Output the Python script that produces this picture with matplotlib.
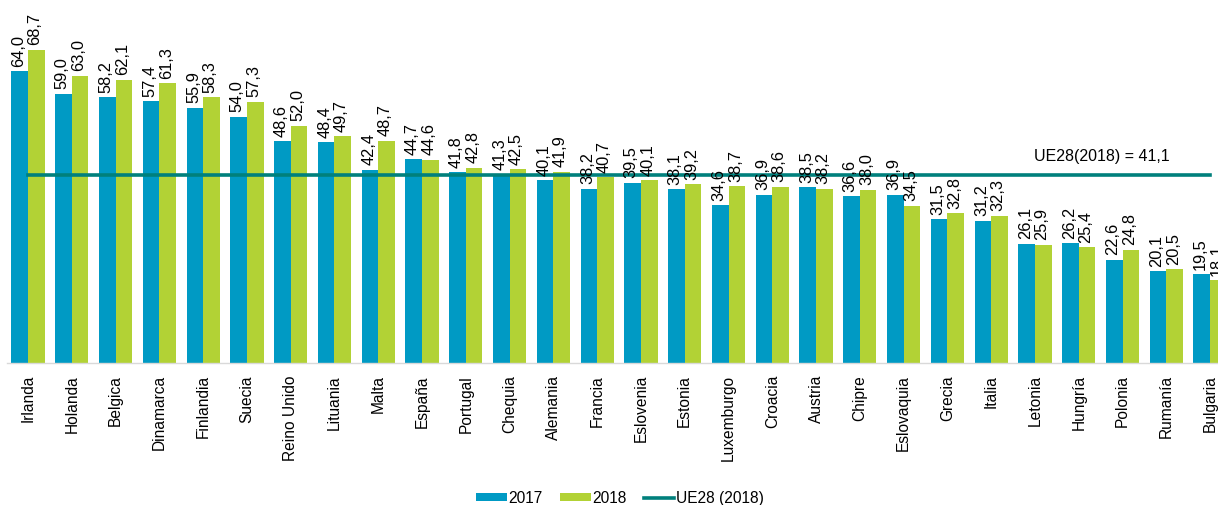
import numpy as np
import matplotlib
matplotlib.use("Agg")
import matplotlib.pyplot as plt

plt.rcParams['font.family'] = ['Liberation Sans', 'DejaVu Sans']

paises = ["Irlanda", "Holanda", "Belgica", "Dinamarca", "Finlandia", "Suecia",
          "Reino Unido", "Lituania", "Malta", "España", "Portugal", "Chequia",
          "Alemania", "Francia", "Eslovenia", "Estonia", "Luxemburgo", "Croacia",
          "Austria", "Chipre", "Eslovaquia", "Grecia", "Italia", "Letonia",
          "Hungría", "Polonia", "Rumanía", "Bulgaria"]
v2017 = [64.0, 59.0, 58.2, 57.4, 55.9, 54.0, 48.6, 48.4, 42.4, 44.7, 41.8, 41.3,
         40.1, 38.2, 39.5, 38.1, 34.6, 36.9, 38.5, 36.6, 36.9, 31.5, 31.2, 26.1,
         26.2, 22.6, 20.1, 19.5]
v2018 = [68.7, 63.0, 62.1, 61.3, 58.3, 57.3, 52.0, 49.7, 48.7, 44.6, 42.8, 42.5,
         41.9, 40.7, 40.1, 39.2, 38.7, 38.6, 38.2, 38.0, 34.5, 32.8, 32.3, 25.9,
         25.4, 24.8, 20.5, 18.1]
ue28 = 41.1

c17 = "#009AC4"
c18 = "#B2D235"
cline = "#00807C"

W, H = 1218, 506
fig = plt.figure(figsize=(W / 100, H / 100), dpi=100)
# axes spills past the right edge, like the original (Bulgaria is cut)
ax = fig.add_axes([7 / W, 142 / H, 1225 / W, 365 / H])

x = np.arange(len(paises))
bw = 0.38
b1 = ax.bar(x - bw / 2, v2017, bw, color=c17, label="2017")
b2 = ax.bar(x + bw / 2, v2018, bw, color=c18, label="2018")
ln, = ax.plot([x[0], x[-1]], [ue28, ue28], color=cline, lw=2.6, label="UE28 (2018)")

fmt = lambda v: f"{v:.1f}".replace(".", ",")
for bars, vals in ((b1, v2017), (b2, v2018)):
    for b, v in zip(bars, vals):
        ax.text(b.get_x() + b.get_width() / 2 - 0.03, v + 1.2, fmt(v),
                rotation=90, ha="center", va="bottom", fontsize=11.8, color="black")

ax.text(22.97, 45.5, "UE28(2018) = 41,1", fontsize=11.5, ha="left", va="center")

ax.set_xlim(-0.48, 27.5)
ax.set_ylim(0, 80)
ax.set_xticks(x)
ax.set_xticklabels(paises, rotation=90, fontsize=11.2)
ax.tick_params(axis="x", length=0, pad=8)
ax.set_yticks([])
for s in ["top", "right", "left"]:
    ax.spines[s].set_visible(False)
ax.spines["bottom"].set_color("#D9D9D9")
ax.spines["bottom"].set_linewidth(1)

fig.legend(handles=[b1, b2, ln], loc="center", bbox_to_anchor=(620 / W, 7 / H),
           ncol=3, frameon=False, fontsize=11.2, handlelength=1.95, handleheight=0.4,
           columnspacing=1.15, handletextpad=0.08)

fig.savefig("out.png", dpi=100)
